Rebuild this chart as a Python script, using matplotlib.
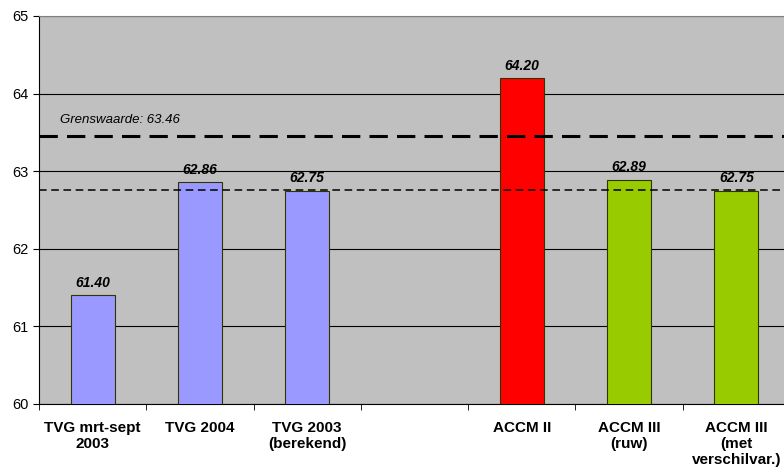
import numpy as np
import matplotlib
matplotlib.use('Agg')
import matplotlib.pyplot as plt

plt.rcParams['font.family'] = ['Liberation Sans', 'DejaVu Sans']

categories = ['TVG mrt-sept\n2003', 'TVG 2004', 'TVG 2003\n(berekend)', '',
              'ACCM II', 'ACCM III\n(ruw)', 'ACCM III\n(met\nverschilvar.)']
values = [61.40, 62.86, 62.75, np.nan, 64.20, 62.89, 62.75]
colors = ['#9999FF', '#9999FF', '#9999FF', '#9999FF', '#FF0000', '#99CC00', '#99CC00']
grenswaarde = 63.46
reference_line = 62.76

fig = plt.figure(figsize=(7.84, 4.72), dpi=100)
ax = fig.add_axes([39 / 784, 1 - 404 / 472, 751 / 784, 388 / 472])
ax.set_facecolor('#C0C0C0')

x = np.arange(len(categories))
ax.bar(x, values, width=0.41, color=colors, edgecolor='#333300', linewidth=0.8, zorder=3)
for xi, v in zip(x, values):
    if not np.isnan(v):
        ax.text(xi, v + 0.07, f'{v:.2f}', ha='center', va='bottom',
                fontsize=10, fontweight='bold', fontstyle='italic', zorder=5)

ax.axhline(grenswaarde, color='black', linestyle=(0, (6, 3)), linewidth=2.2, zorder=4)
ax.axhline(reference_line, color='black', linestyle=(0, (5, 3)), linewidth=1.1, zorder=4)
ax.text(-0.30, grenswaarde + 0.12, f'Grenswaarde: {grenswaarde:.2f}',
        fontsize=9.5, fontstyle='italic', va='bottom', ha='left', zorder=5)

ax.set_ylim(60, 65)
ax.set_xlim(-0.5, len(categories) - 0.5)
ax.set_yticks(np.arange(60, 66, 1))
ax.yaxis.grid(True, color='black', linewidth=0.8, zorder=1)
ax.set_axisbelow(True)
ax.tick_params(axis='y', labelsize=10.5, length=4, direction='out')

ax.set_xticks(x)
ax.set_xticklabels(categories, fontsize=11, fontweight='bold', linespacing=1.2)
ax.tick_params(axis='x', which='major', length=0, pad=12)
ax.set_xticks(np.arange(-0.5, len(categories), 1), minor=True)
ax.tick_params(axis='x', which='minor', length=4, direction='out')

for side in ['top', 'right']:
    ax.spines[side].set_color('#808080')
for side in ['left', 'bottom']:
    ax.spines[side].set_color('black')

plt.savefig('out.png', dpi=100)
